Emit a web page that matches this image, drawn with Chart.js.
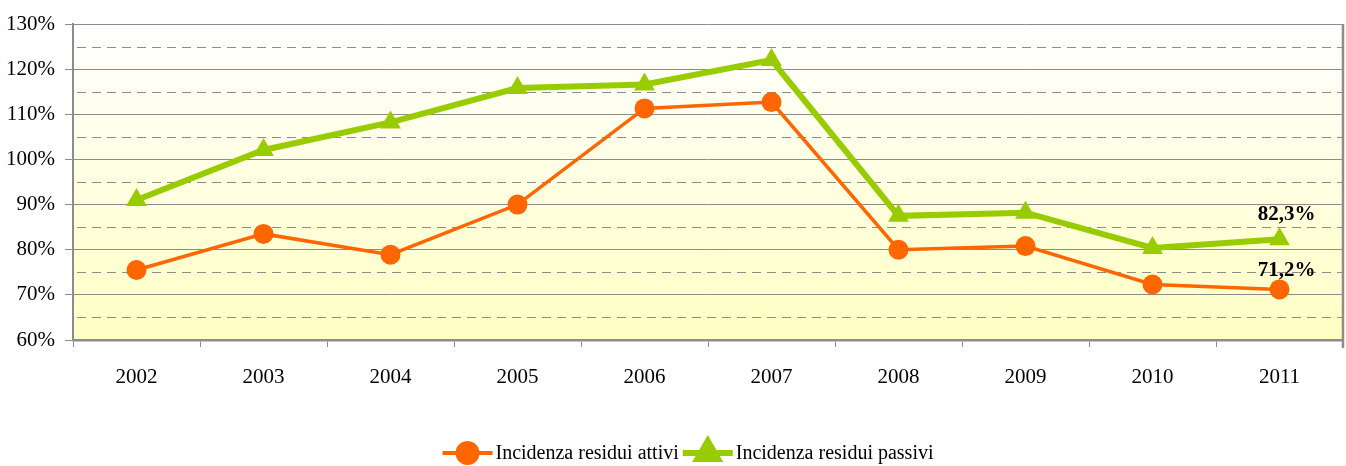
<!DOCTYPE html>
<html>
<head>
<meta charset="utf-8">
<script src="https://cdn.jsdelivr.net/npm/chart.js@4/dist/chart.umd.min.js"></script>
<style>
  html, body { margin: 0; padding: 0; background: #fff; overflow: hidden; }
  #wrap { width: 1346px; height: 466px; }
</style>
</head>
<body>
<div id="wrap"><canvas id="incidenzaChart"></canvas></div>
<script>
// dati
const anni = ["2002", "2003", "2004", "2005", "2006", "2007", "2008", "2009", "2010", "2011"];
const residuiAttivi = [75.5, 83.5, 78.9, 90.0, 111.3, 112.7, 80.0, 80.8, 72.3, 71.2];
const residuiPassivi = [91.0, 102.1, 108.2, 115.8, 116.6, 122.0, 87.5, 88.2, 80.4, 82.3];
const lineeTratteggiate = [65, 75, 85, 95, 105, 115, 125];

const FONT = "'Liberation Serif', 'Times New Roman', serif";
const GRIGIO = "#8c8c8c";
const ARANCIO = "#ff6600";
const VERDE = "#99cc00";

function percento(v) {
    return v.toFixed(1).replace(".", ",") + "%";
}

// sfondo sfumato + griglia tratteggiata + bordo destro
const sfondoPlugin = {
    id: "sfondo",
    beforeDatasetsDraw(chart) {
        const { ctx, chartArea: a, scales } = chart;
        ctx.save();
        ctx.strokeStyle = GRIGIO;
        ctx.lineWidth = 1;
        ctx.setLineDash([9, 6]);
        lineeTratteggiate.forEach(function (v) {
            const y = Math.round(scales.y.getPixelForValue(v)) + 0.5;
            ctx.beginPath();
            ctx.moveTo(a.left + 4, y);
            ctx.lineTo(a.right, y);
            ctx.stroke();
        });
        ctx.setLineDash([]);
        ctx.lineWidth = 2.5;
        ctx.beginPath();
        ctx.moveTo(a.right, a.top);
        ctx.lineTo(a.right, a.bottom + 8);
        ctx.stroke();
        ctx.restore();
    },
    beforeDraw(chart) {
        const { ctx, chartArea: a } = chart;
        const g = ctx.createLinearGradient(0, a.top, 0, a.bottom);
        g.addColorStop(0, "#ffffff");
        g.addColorStop(1, "#ffffc4");
        ctx.save();
        ctx.fillStyle = g;
        ctx.fillRect(a.left, a.top, a.right - a.left, a.bottom - a.top);
        ctx.restore();
    }
};

// etichette sull'ultimo punto
const etichettePlugin = {
    id: "etichette",
    afterDatasetsDraw(chart) {
        const ctx = chart.ctx;
        ctx.save();
        ctx.font = "bold 21px " + FONT;
        ctx.fillStyle = "#000";
        ctx.textAlign = "center";
        ctx.textBaseline = "alphabetic";
        const scarti = [13, 19];
        chart.data.datasets.forEach(function (ds, i) {
            const meta = chart.getDatasetMeta(i);
            const last = ds.data.length - 1;
            const p = meta.data[last];
            ctx.fillText(percento(ds.data[last]), p.x + 7, p.y - scarti[i]);
        });
        ctx.restore();
    }
};

// legenda con linea + simbolo
const legendaPlugin = {
    id: "legenda",
    afterDraw(chart) {
        const ctx = chart.ctx;
        const y = 453;
        ctx.save();
        ctx.font = "20px " + FONT;
        ctx.textBaseline = "middle";
        const voci = [
            { testo: "Incidenza residui attivi", colore: ARANCIO, stile: "circle", spessore: 4, r: 10 },
            { testo: "Incidenza residui passivi", colore: VERDE, stile: "triangle", spessore: 6, r: 12 }
        ];
        const linea = 50;
        let totale = 0;
        voci.forEach(function (v) { totale += linea + 3 + ctx.measureText(v.testo).width; });
        totale += 4;
        let x = 688 - totale / 2;
        voci.forEach(function (v) {
            ctx.strokeStyle = v.colore;
            ctx.lineWidth = v.spessore;
            ctx.beginPath();
            ctx.moveTo(x, y);
            ctx.lineTo(x + linea, y);
            ctx.stroke();
            Chart.helpers.drawPoint(ctx, {
                pointStyle: v.stile, radius: v.r, borderWidth: 1, rotation: 0
            }, x + linea / 2, y);
            ctx.fillStyle = v.colore;
            ctx.fill();
            ctx.fillStyle = "#000";
            ctx.fillText(v.testo, x + linea + 3, y + 1);
            x += linea + 3 + ctx.measureText(v.testo).width + 4;
        });
        ctx.restore();
    }
};

document.addEventListener("DOMContentLoaded", function () {
    new Chart(document.getElementById("incidenzaChart"), {
        type: "line",
        data: {
            labels: anni,
            datasets: [{
                label: "Incidenza residui attivi",
                data: residuiAttivi,
                borderColor: ARANCIO,
                backgroundColor: ARANCIO,
                borderWidth: 3.5,
                pointStyle: "circle",
                pointRadius: 10,
                pointHoverRadius: 10,
                pointBorderWidth: 0,
                tension: 0,
            }, {
                label: "Incidenza residui passivi",
                data: residuiPassivi,
                borderColor: VERDE,
                backgroundColor: VERDE,
                borderWidth: 6,
                pointStyle: "triangle",
                pointRadius: 12,
                pointHoverRadius: 12,
                pointBorderWidth: 0,
                tension: 0,
            }],
        },
        options: {
            responsive: true,
            maintainAspectRatio: false,
            animation: false,
            layout: { autoPadding: false, padding: { top: 24, right: 3, left: 0, bottom: 0 } },
            plugins: {
                legend: { display: false },
                tooltip: { enabled: false },
            },
            scales: {
                x: {
                    offset: true,
                    grid: {
                        offset: true,
                        drawOnChartArea: false,
                        drawTicks: true,
                        tickLength: 7,
                        tickColor: GRIGIO,
                    },
                    border: { color: GRIGIO, width: 2.5 },
                    ticks: {
                        color: "#000",
                        font: { family: FONT, size: 21 },
                        padding: 18,
                        maxRotation: 0,
                    },
                    afterFit: function (scale) {
                        scale.height = 126;
                        scale.paddingRight = 0;
                        scale.paddingLeft = 0;
                    },
                },
                y: {
                    min: 60,
                    max: 130,
                    ticks: {
                        stepSize: 10,
                        color: "#000",
                        font: { family: FONT, size: 21 },
                        padding: 10,
                        callback: function (v) { return v + "%"; },
                    },
                    grid: {
                        color: GRIGIO,
                        lineWidth: 1,
                        tickLength: 8,
                        tickColor: GRIGIO,
                    },
                    border: { color: GRIGIO, width: 2 },
                    afterFit: function (scale) { scale.width = 73; },
                },
            },
        },
        plugins: [sfondoPlugin, etichettePlugin, legendaPlugin],
    });
});
</script>
</body>
</html>
